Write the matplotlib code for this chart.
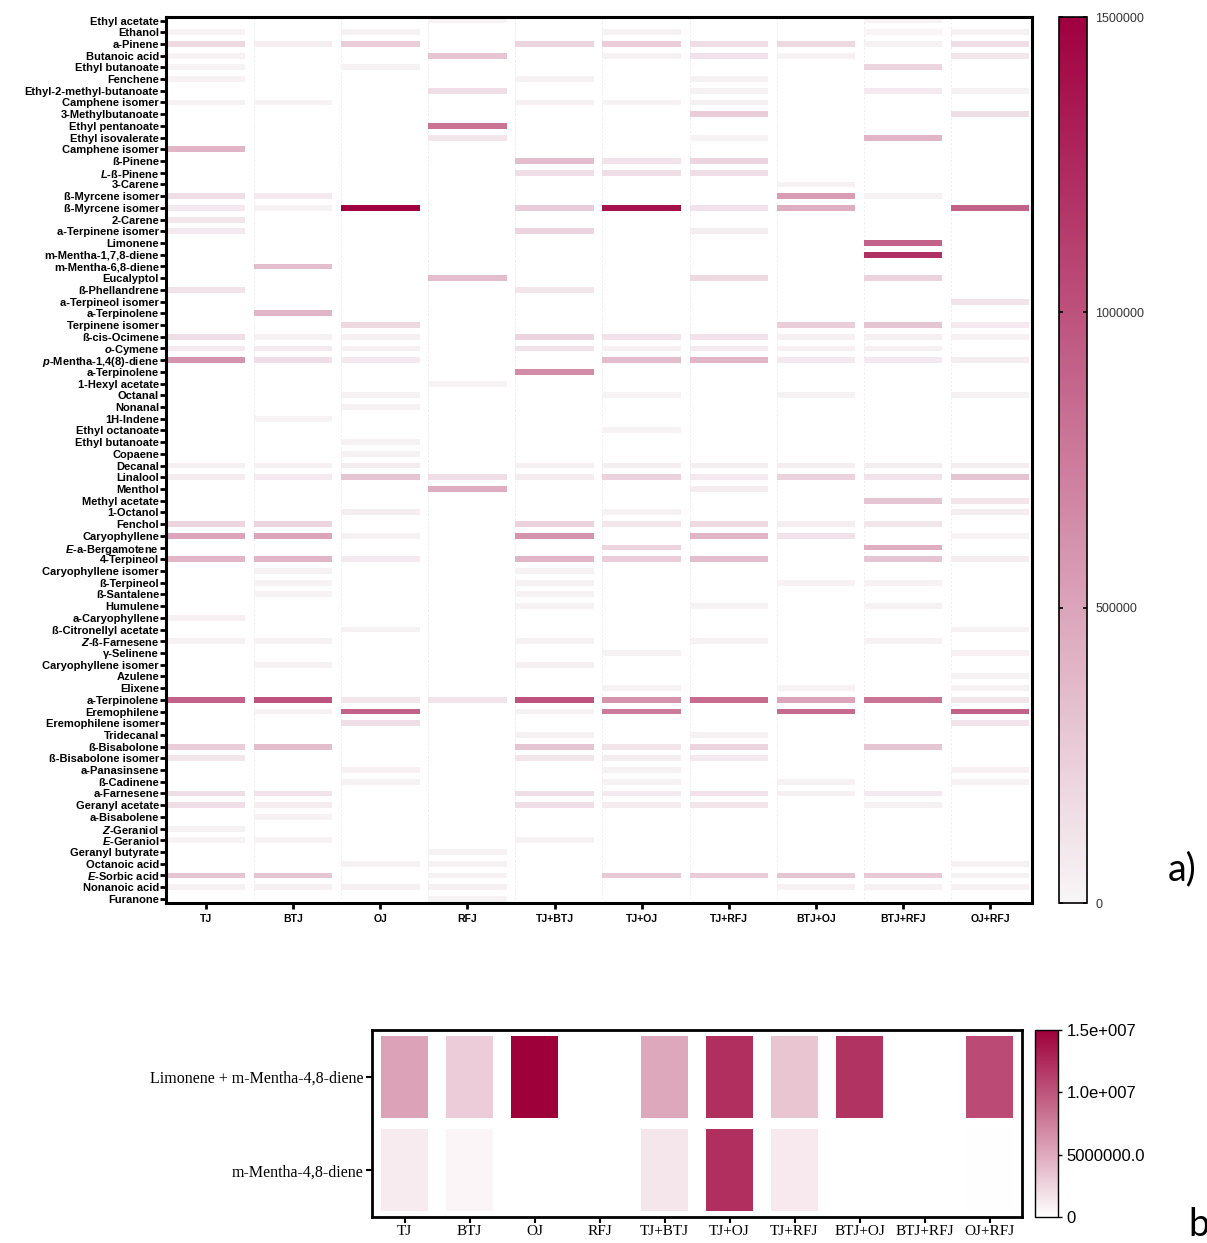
import numpy as np
import matplotlib
matplotlib.use('Agg')
import matplotlib.pyplot as plt
from matplotlib.colors import LinearSegmentedColormap, Normalize
from matplotlib.cm import ScalarMappable

plt.rcParams['font.family'] = ['Liberation Sans', 'DejaVu Sans']
plt.rcParams['mathtext.fontset'] = 'custom'
plt.rcParams['mathtext.it'] = 'Liberation Sans:italic:bold'

samples = ['TJ', 'BTJ', 'OJ', 'RFJ', 'TJ+BTJ', 'TJ+OJ', 'TJ+RFJ', 'BTJ+OJ', 'BTJ+RFJ', 'OJ+RFJ']

compounds = [
    'Ethyl acetate', 'Ethanol', 'a-Pinene', 'Butanoic acid', 'Ethyl butanoate',
    'Fenchene', 'Ethyl-2-methyl-butanoate', 'Camphene isomer', '3-Methylbutanoate',
    'Ethyl pentanoate', 'Ethyl isovalerate', 'Camphene isomer', 'ß-Pinene',
    r'$\it{L}$-ß-Pinene', '3-Carene', 'ß-Myrcene isomer', 'ß-Myrcene isomer', '2-Carene',
    'a-Terpinene isomer', 'Limonene', 'm-Mentha-1,7,8-diene', 'm-Mentha-6,8-diene',
    'Eucalyptol', 'ß-Phellandrene', 'a-Terpineol isomer', 'a-Terpinolene',
    'Terpinene isomer', 'ß-cis-Ocimene', r'$\it{o}$-Cymene', r'$\it{p}$-Mentha-1,4(8)-diene',
    'a-Terpinolene', '1-Hexyl acetate', 'Octanal', 'Nonanal', '1H-Indene',
    'Ethyl octanoate', 'Ethyl butanoate', 'Copaene', 'Decanal', 'Linalool', 'Menthol',
    'Methyl acetate', '1-Octanol', 'Fenchol', 'Caryophyllene', r'$\it{E}$-a-Bergamotene',
    '4-Terpineol', 'Caryophyllene isomer', 'ß-Terpineol', 'ß-Santalene', 'Humulene',
    'a-Caryophyllene', 'ß-Citronellyl acetate', r'$\it{Z}$-ß-Farnesene', 'γ-Selinene',
    'Caryophyllene isomer', 'Azulene', 'Elixene', 'a-Terpinolene', 'Eremophilene',
    'Eremophilene isomer', 'Tridecanal', 'ß-Bisabolone', 'ß-Bisabolone isomer',
    'a-Panasinsene', 'ß-Cadinene', 'a-Farnesene', 'Geranyl acetate', 'a-Bisabolene',
    r'$\it{Z}$-Geraniol', r'$\it{E}$-Geraniol', 'Geranyl butyrate', 'Octanoic acid',
    r'$\it{E}$-Sorbic acid', 'Nonanoic acid', 'Furanone',
]

# peak areas per juice, in units of 100000 (one value per compound, top to bottom)
tj = [0, 0.2, 1.8, 0.3, 0.2, 0.2, 0, 0.3, 0, 0,
      0, 4, 0, 0, 0, 1.5, 0.8, 1.0, 0.8, 0,
      0, 0, 0, 1.2, 0, 0, 0, 1.5, 0.8, 6,
      0, 0, 0, 0, 0, 0, 0, 0, 0.4, 0.6,
      0, 0, 0, 2, 5, 0, 4, 0, 0, 0,
      0, 0.4, 0, 0.3, 0, 0, 0, 0, 9, 0,
      0, 0, 2.5, 1, 0, 0, 1.5, 1.5, 0, 0.3,
      0.3, 0, 0, 3, 0.3, 0]
btj = [0, 0, 0.5, 0, 0, 0, 0, 0.2, 0, 0,
       0, 0, 0, 0, 0, 0.8, 0.3, 0, 0, 0,
       0, 3.5, 0, 0, 0, 4, 0, 0.3, 0.8, 1.5,
       0, 0, 0, 0, 0.2, 0, 0, 0, 0.4, 0.8,
       0, 0, 0, 2, 5, 0, 4, 0.3, 0.2, 0.2,
       0, 0, 0, 0.3, 0, 0.3, 0, 0, 10, 0.3,
       0, 0, 3.5, 0, 0, 0, 1.2, 0.5, 0.2, 0,
       0.3, 0, 0, 3, 0.4, 0]
oj = [0, 0.3, 2.5, 0, 0.3, 0, 0, 0, 0, 0,
      0, 0, 0, 0, 0, 0, 15, 0, 0, 0,
      0, 0, 0, 0, 0, 0, 1.8, 0.4, 0.4, 0.8,
      0, 0, 0.3, 0.3, 0, 0, 0.3, 0.3, 0.6, 3,
      0, 0, 0.5, 0, 0.3, 0, 0.8, 0, 0, 0,
      0, 0, 0.3, 0, 0, 0, 0, 0, 1, 9,
      1.5, 0, 0, 0, 0.4, 0.3, 0, 0, 0, 0,
      0, 0, 0.3, 0, 0.4, 0]
rfj = [0.2, 0, 0, 3, 0, 0, 1.5, 0, 0, 8,
       1.0, 0, 0, 0, 0, 0, 0, 0, 0, 0,
       0, 0, 3.5, 0, 0, 0, 0, 0, 0, 0,
       0, 0.2, 0, 0, 0, 0, 0, 0, 0, 1.5,
       4.5, 0, 0, 0, 0, 0, 0, 0, 0, 0,
       0, 0, 0, 0, 0, 0, 0, 0, 1.2, 0,
       0, 0, 0, 0, 0, 0, 0, 0, 0, 0,
       0, 0.3, 0.3, 0.3, 0.4, 0.2]
tj_btj = [0, 0, 2, 0, 0, 0.3, 0, 0.4, 0, 0,
          0, 0, 3.5, 1.5, 0, 0, 2.5, 0, 2, 0,
          0, 0, 0, 1.0, 0, 0, 0, 2, 1.2, 0,
          6.5, 0, 0, 0, 0, 0, 0, 0, 0.4, 0.6,
          0, 0, 0, 2.2, 6, 0, 4, 0.3, 0.3, 0.3,
          0.3, 0, 0, 0.3, 0, 0.4, 0, 0, 10, 0.3,
          0, 0.3, 3, 1, 0, 0, 1.5, 1.5, 0, 0,
          0.3, 0, 0, 0, 0, 0]
tj_oj = [0, 0.3, 2.5, 0.3, 0, 0, 0, 0.2, 0, 0,
         0, 0, 1.2, 1.5, 0, 0, 14, 0, 0, 0,
         0, 0, 0, 0, 0, 0, 0, 1.2, 0.4, 3.5,
         0, 0, 0.2, 0, 0, 0.2, 0, 0, 0.5, 2.2,
         0, 0, 0.3, 1, 0, 2, 2.5, 0, 0, 0,
         0, 0, 0, 0, 0.3, 0, 0, 0.2, 6, 7.5,
         0, 0, 1, 0.5, 0.3, 0.3, 0.8, 0.6, 0, 0,
         0, 0, 0, 2.8, 0, 0]
tj_rfj = [0, 0, 1.5, 1.2, 0, 0.3, 0.3, 0.4, 2.5, 0,
          0.2, 0, 2, 1.5, 0, 0, 1.2, 0, 0.5, 0,
          0, 0, 1.8, 0, 0, 0, 0, 1.2, 0.8, 4,
          0, 0, 0, 0, 0, 0, 0, 0, 0.5, 0.8,
          0.6, 0, 0, 1.8, 4, 0, 3.5, 0, 0, 0,
          0.2, 0, 0, 0.3, 0, 0, 0, 0, 8.5, 0,
          0, 0.3, 2, 0.8, 0, 0, 1.2, 1, 0, 0,
          0, 0, 0, 2.5, 0, 0]
btj_oj = [0, 0, 1.8, 0.3, 0, 0, 0, 0, 0, 0,
          0, 0, 0, 0, 0.3, 5.5, 4.5, 0, 0, 0,
          0, 0, 0, 0, 0, 0, 2.5, 0.4, 0.4, 0.8,
          0, 0, 0.3, 0, 0, 0, 0, 0, 0.5, 2.2,
          0, 0, 0, 0.5, 1.2, 0, 0, 0, 0.2, 0,
          0, 0, 0, 0, 0, 0, 0, 0.2, 5, 8.5,
          0, 0, 0, 0, 0, 0.3, 0.4, 0, 0, 0,
          0, 0, 0, 3, 0.3, 0]
btj_rfj = [0.2, 0.1, 0.3, 0, 2, 0, 0.8, 0, 0, 0,
           4, 0, 0, 0, 0, 0.3, 0, 0, 0, 9,
           12, 0, 2.2, 0, 0, 0, 3, 0.4, 0.4, 0.8,
           0, 0, 0, 0, 0, 0, 0, 0, 0.5, 1.2,
           0, 3, 0, 1, 0, 4.5, 3, 0, 0.2, 0,
           0.3, 0, 0, 0.3, 0, 0, 0, 0, 8, 0,
           0, 0, 3, 0, 0, 0, 0.8, 0.3, 0, 0,
           0, 0, 0, 2.8, 0.3, 0]
oj_rfj = [0, 0.3, 1.5, 1.0, 0, 0, 0.3, 0, 1.5, 0,
          0, 0, 0, 0, 0, 0, 9, 0, 0, 0,
          0, 0, 0, 0, 1.2, 0, 0.8, 0.3, 0, 0.5,
          0, 0, 0.3, 0, 0, 0, 0, 0, 0.5, 3,
          0, 1, 0.5, 0, 0.2, 0, 0.6, 0, 0, 0,
          0, 0, 0.3, 0, 0.4, 0, 0.3, 0.3, 1, 9,
          1.2, 0, 0, 0, 0.4, 0.3, 0, 0, 0, 0,
          0, 0, 0.3, 0.3, 0.3, 0]

# panel b, units of 1e6
mix_rows = ['Limonene + m-Mentha-4,8-diene', 'm-Mentha-4,8-diene']
limonene_mix = [5.4, 3.0, 15.0, 0.0, 5.1, 12.2, 3.5, 12.0, 0.0, 10.6]
mentha_48 = [1.2, 0.6, 0.05, 0.0, 1.5, 12.2, 1.3, 0.05, 0.0, 0.1]

W, H = 1207, 1243
fig = plt.figure(figsize=(W / 100, H / 100), dpi=100)

cmap = LinearSegmentedColormap.from_list('pk', ['#F8F6F7', '#A0003F'])
cmap_b = LinearSegmentedColormap.from_list('pkb', ['#FFFFFF', '#9E003A'])

# ---- panel a ----
columns = [tj, btj, oj, rfj, tj_btj, tj_oj, tj_rfj, btj_oj, btj_rfj, oj_rfj]
norm = Normalize(0, 1500000)
ax = fig.add_axes([166 / W, 1 - 903 / H, (1032 - 166) / W, (903 - 17) / H])
rows = np.arange(len(compounds))
for j, col in enumerate(columns):
    vals = np.array(col) * 1e5
    m = vals > 0
    ax.barh(rows[m], 0.9, left=j - 0.45, height=0.5, color=cmap(norm(vals[m])), linewidth=0)
    ax.axvline(j - 0.45, color='#e6e6e6', lw=0.6, ls=(0, (2, 3)), zorder=0)
ax.set_xlim(-0.46, 9.48)
ax.set_ylim(75.35, -0.3)
ax.set_yticks(rows)
ax.set_yticklabels(compounds, fontsize=8, fontweight='bold')
ax.set_xticks(range(10))
ax.set_xticklabels(samples, fontsize=7.5, fontweight='bold')
ax.tick_params(axis='y', length=4, width=2, pad=1)
ax.tick_params(axis='x', length=4, width=2, pad=4)
for s in ax.spines.values():
    s.set_linewidth(2.2)

cax = fig.add_axes([1059 / W, 1 - 903 / H, 28 / W, (903 - 17) / H])
cb = fig.colorbar(ScalarMappable(norm=norm, cmap=cmap), cax=cax)
cb.set_ticks([0, 500000, 1000000, 1500000])
cb.set_ticklabels(['0', '500000', '1000000', '1500000'])
cax.tick_params(direction='in', length=3, width=1.2, left=True, right=True,
                labelsize=9, labelcolor='#333333', pad=6)
cb.outline.set_linewidth(1.2)
fig.text(1168 / W, 1 - 880 / H, 'a)', fontsize=27, family='Lato')

# ---- panel b ----
serif = 'Liberation Serif'
ax2 = fig.add_axes([372 / W, 1 - 1217 / H, 650 / W, 187 / H])
norm_b = Normalize(0, 15)
for i, vals in enumerate([limonene_mix, mentha_48]):
    v = np.array(vals)
    ax2.bar(np.arange(10), 0.88, bottom=i - 0.44, width=0.72,
            color=cmap_b(norm_b(v)), linewidth=0)
ax2.set_xlim(-0.5, 9.5)
ax2.set_ylim(1.5, -0.5)
ax2.set_yticks([0, 1])
ax2.set_yticklabels(mix_rows, fontsize=11.5, family=serif)
ax2.set_xticks(range(10))
ax2.set_xticklabels(samples, fontsize=11, family=serif)
ax2.tick_params(length=4, width=1.5, pad=2)
for s in ax2.spines.values():
    s.set_linewidth(2)

cax2 = fig.add_axes([1035 / W, 1 - 1217 / H, 23 / W, 187 / H])
cb2 = fig.colorbar(ScalarMappable(norm=norm_b, cmap=cmap_b), cax=cax2)
cb2.set_ticks([0, 5, 10, 15])
cb2.set_ticklabels(['0', '5000000.0', '1.0e+007', '1.5e+007'])
cax2.tick_params(length=3, width=1, labelsize=12, pad=3)
cb2.outline.set_linewidth(1)
fig.text(1188 / W, 1 - 1243 / H, 'b', fontsize=27, family='Lato', va='bottom')

fig.savefig('out.png', dpi=100)
